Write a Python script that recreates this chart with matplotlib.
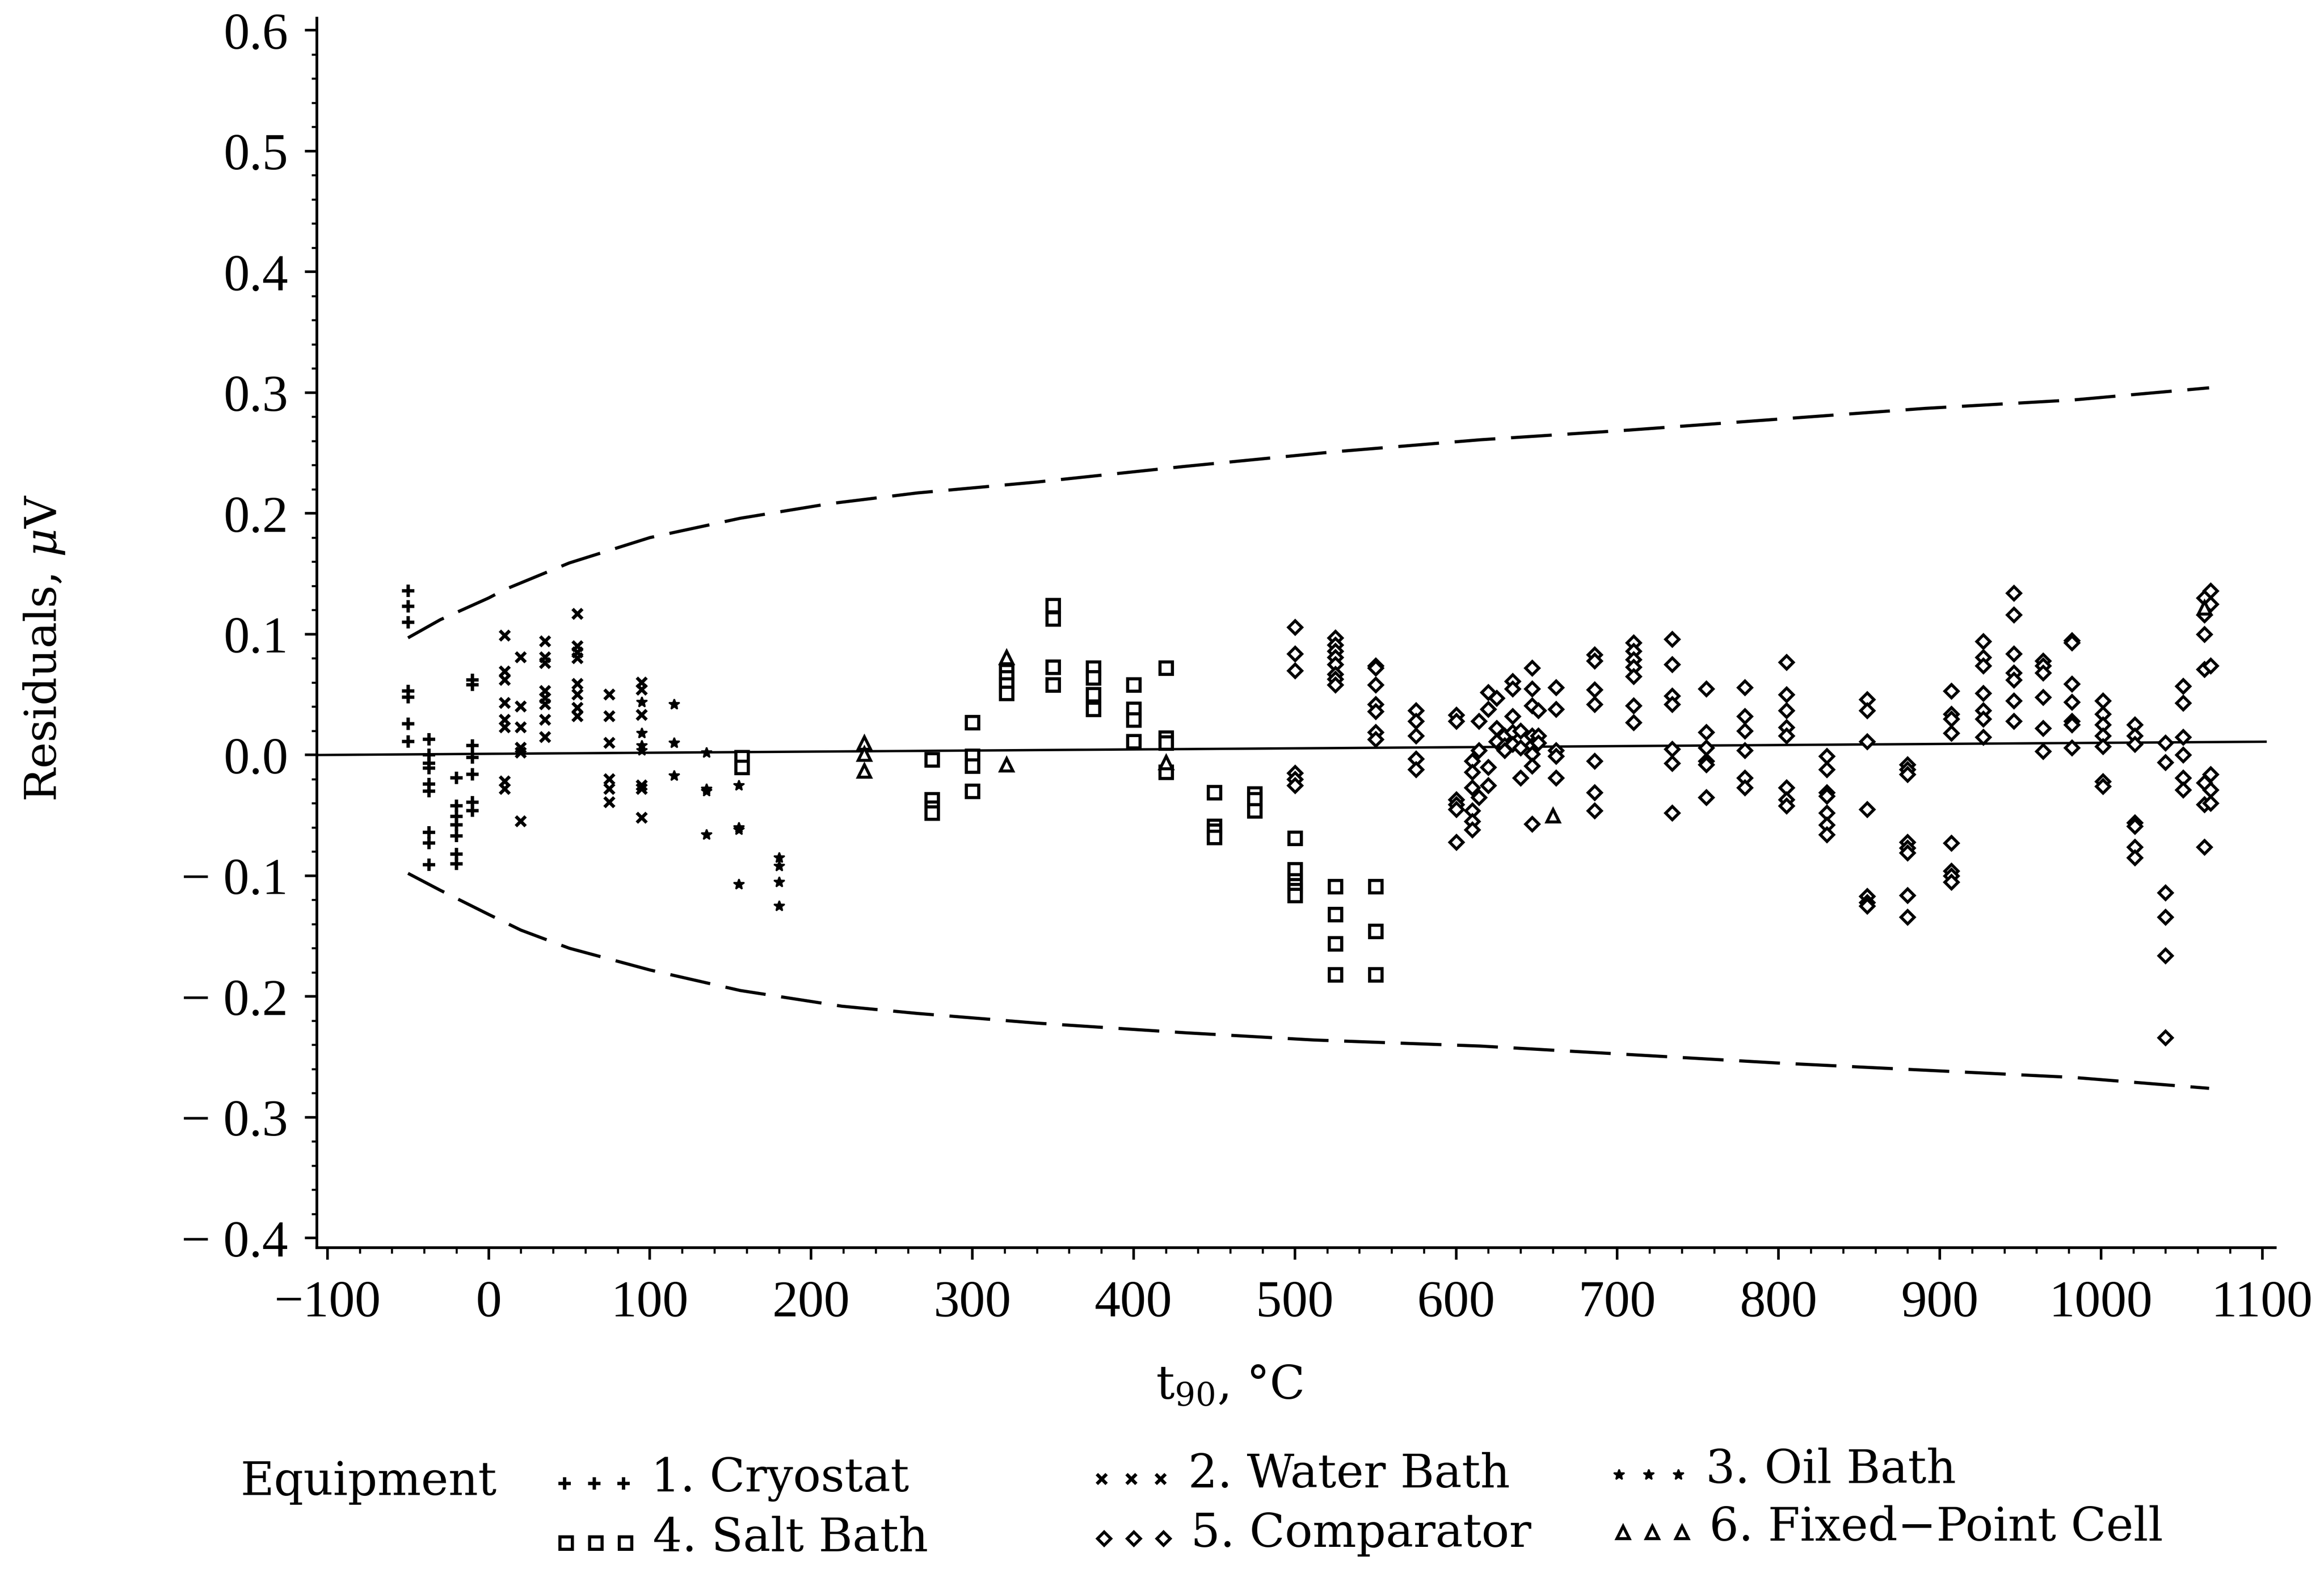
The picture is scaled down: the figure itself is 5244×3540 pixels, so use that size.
import matplotlib
matplotlib.use("Agg")
import matplotlib.pyplot as plt
from matplotlib.lines import Line2D
from matplotlib.ticker import MultipleLocator, FuncFormatter

plt.rcParams['mathtext.fontset'] = 'dejavuserif'

# residual columns: one temperature, several residuals (uV)
cryo_t = [-50, -37, -20, -10]
cryo_r = [[0.136, 0.123, 0.110, 0.053, 0.048, 0.026, 0.011],
          [0.013, 0.0, -0.007, -0.011, -0.024, -0.030, -0.064, -0.073, -0.091],
          [-0.019, -0.042, -0.051, -0.058, -0.067, -0.082, -0.090],
          [0.062, 0.058, 0.008, -0.002, -0.016, -0.039, -0.046]]

water_t = [10, 20, 35, 55, 75, 95]
water_r = [[0.099, 0.069, 0.062, 0.043, 0.029, 0.023, -0.022, -0.028],
           [0.081, 0.040, 0.023, 0.006, 0.002, -0.055],
           [0.094, 0.081, 0.076, 0.053, 0.047, 0.042, 0.029, 0.015],
           [0.117, 0.090, 0.085, 0.080, 0.059, 0.050, 0.039, 0.032],
           [0.050, 0.032, 0.010, -0.020, -0.028, -0.039],
           [0.060, 0.054, 0.033, -0.025, -0.028, -0.052]]

oil_t = [95, 115, 135, 155, 180]
oil_r = [[0.044, 0.018, 0.008, 0.004],
         [0.042, 0.010, -0.017],
         [0.002, -0.028, -0.030, -0.066],
         [-0.025, -0.060, -0.062, -0.107],
         [-0.085, -0.092, -0.105, -0.125]]

salt_t = [157, 275, 300, 321, 350, 375, 400, 420, 450, 475, 500, 525, 550]
salt_r = [[-0.002, -0.010],
          [-0.004, -0.037, -0.044, -0.048],
          [0.027, -0.001, -0.009, -0.030],
          [0.069, 0.064, 0.058, 0.051],
          [0.124, 0.113, 0.073, 0.058],
          [0.072, 0.064, 0.050, 0.038],
          [0.058, 0.038, 0.029, 0.011],
          [0.072, 0.014, 0.010, -0.014],
          [-0.031, -0.059, -0.063, -0.068],
          [-0.032, -0.037, -0.046],
          [-0.069, -0.095, -0.104, -0.108, -0.112, -0.116],
          [-0.109, -0.132, -0.156, -0.182],
          [-0.109, -0.146, -0.182]]

comp_t = [500, 525, 550, 575, 600, 610, 614, 620, 625, 630, 635, 640, 647, 651,
          662, 686, 710, 734, 755, 779, 805, 830, 855, 880, 907, 927, 946, 964,
          982, 1001, 1021, 1040, 1051, 1064, 1068]
comp_r = [[0.106, 0.084, 0.070, -0.015, -0.020, -0.025],
          [0.097, 0.091, 0.086, 0.081, 0.075, 0.067, 0.063, 0.058],
          [0.074, 0.072, 0.058, 0.042, 0.036, 0.019, 0.013],
          [0.037, 0.028, 0.016, -0.003, -0.012],
          [0.033, 0.028, -0.037, -0.041, -0.045, -0.072],
          [-0.005, -0.014, -0.027, -0.046, -0.055, -0.062],
          [0.028, 0.004, -0.035],
          [0.052, 0.038, -0.010, -0.025],
          [0.047, 0.022, 0.011],
          [0.016, 0.008, 0.004],
          [0.061, 0.055, 0.032, 0.019, 0.009],
          [0.020, 0.006, -0.019],
          [0.072, 0.055, 0.041, 0.016, 0.008, 0.001, -0.009, -0.057],
          [0.037, 0.016, 0.010],
          [0.056, 0.038, 0.004, -0.001, -0.019],
          [0.083, 0.078, 0.054, 0.042, -0.005, -0.031, -0.046],
          [0.093, 0.086, 0.079, 0.073, 0.065, 0.041, 0.027],
          [0.096, 0.075, 0.049, 0.042, 0.005, -0.007, -0.048],
          [0.055, 0.019, 0.006, -0.005, -0.008, -0.035],
          [0.056, 0.032, 0.020, 0.004, -0.019, -0.027],
          [0.077, 0.050, 0.037, 0.023, 0.016, -0.027, -0.037, -0.042],
          [-0.001, -0.012, -0.031, -0.034, -0.048, -0.058, -0.066],
          [0.046, 0.037, 0.011, -0.045, -0.117, -0.122, -0.125],
          [-0.008, -0.012, -0.016, -0.072, -0.077, -0.081, -0.116, -0.134],
          [0.053, 0.034, 0.030, 0.018, -0.073, -0.096, -0.100, -0.105],
          [0.094, 0.081, 0.074, 0.051, 0.037, 0.030, 0.015],
          [0.134, 0.116, 0.084, 0.068, 0.062, 0.045, 0.028],
          [0.078, 0.074, 0.068, 0.048, 0.022, 0.003],
          [0.095, 0.093, 0.059, 0.044, 0.028, 0.025, 0.006],
          [0.045, 0.034, 0.025, 0.016, 0.007, -0.022, -0.026],
          [0.025, 0.016, 0.009, -0.056, -0.059, -0.076, -0.085],
          [0.010, -0.006, -0.114, -0.134, -0.166, -0.234],
          [0.057, 0.043, 0.015, 0.000, -0.019, -0.029],
          [0.130, 0.116, 0.100, 0.071, -0.023, -0.041, -0.076],
          [0.136, 0.125, 0.074, -0.016, -0.029, -0.040]]

fixed_t = [233, 233, 233, 321, 321, 420, 660, 1064]
fixed_r = [0.010, 0.001, -0.013, 0.081, -0.008, -0.006, -0.050, 0.122]

# fitted line and uncertainty bands
fit_t = [-106, 1102]
fit_r = [0.0, 0.011]
upper_t = [-50, -30, -20, 0, 10, 30, 50, 100, 156, 211, 266, 340, 432, 524, 615, 707, 799, 891, 983, 1067]
upper_r = [0.097, 0.112, 0.118, 0.130, 0.137, 0.148, 0.159, 0.180, 0.196, 0.208, 0.217, 0.226, 0.239,
           0.251, 0.261, 0.269, 0.278, 0.287, 0.294, 0.304]
lower_t = [-50, -30, 0, 20, 50, 100, 156, 219, 266, 340, 432, 512, 615, 707, 799, 891, 983, 1067]
lower_r = [-0.098, -0.112, -0.132, -0.145, -0.160, -0.178, -0.195, -0.208, -0.214, -0.222, -0.230,
           -0.236, -0.241, -0.248, -0.255, -0.261, -0.267, -0.276]


def expand(ts, rs):
    xs, ys = [], []
    for t, col in zip(ts, rs):
        xs += [t] * len(col)
        ys += col
    return xs, ys


styles = {
    'cryo': dict(marker='+', ms=6.5, mew=1.8, color='black'),
    'water': dict(marker='x', ms=5.5, mew=1.8, color='black'),
    'oil': dict(marker='*', ms=6, mew=0.8, color='black', mfc='black'),
    'salt': dict(marker='s', ms=6.5, mew=1.7, color='black', mfc='white'),
    'comp': dict(marker='D', ms=5, mew=1.6, color='black', mfc='white'),
    'fixed': dict(marker='^', ms=6.5, mew=1.6, color='black', mfc='white'),
}

fig = plt.figure(figsize=(17.48, 11.803), dpi=300)
ax = fig.add_axes([0.1363, 0.2047, 0.8427, 0.7834])

ax.plot(fit_t, fit_r, color='black', lw=1.3)
ax.plot(upper_t, upper_r, color='black', lw=1.7, dashes=(13, 5))
ax.plot(lower_t, lower_r, color='black', lw=1.7, dashes=(13, 5))

for key, (ts, rs) in [('cryo', (cryo_t, cryo_r)), ('water', (water_t, water_r)),
                      ('oil', (oil_t, oil_r)), ('salt', (salt_t, salt_r)),
                      ('comp', (comp_t, comp_r))]:
    xs, ys = expand(ts, rs)
    ax.plot(xs, ys, ls='none', **styles[key])
ax.plot(fixed_t, fixed_r, ls='none', **styles['fixed'])

ax.set_xlim(-106.6, 1108)
ax.set_ylim(-0.408, 0.61)
ax.spines['top'].set_visible(False)
ax.spines['right'].set_visible(False)
for s in ('left', 'bottom'):
    ax.spines[s].set_linewidth(1.5)

ax.xaxis.set_major_locator(MultipleLocator(100))
ax.xaxis.set_minor_locator(MultipleLocator(20))
ax.yaxis.set_major_locator(MultipleLocator(0.1))
ax.yaxis.set_minor_locator(MultipleLocator(0.02))
ax.xaxis.set_major_formatter(FuncFormatter(lambda v, p: f"{v:.0f}".replace('-', '\u2212')))
ax.yaxis.set_major_formatter(FuncFormatter(lambda v, p: f"{v:.1f}".replace('-', '\u2212 ')))
ax.tick_params(which='major', direction='out', length=6.5, width=1.4, labelsize=28, pad=9)
ax.tick_params(which='minor', direction='out', length=3, width=1.1)
ax.tick_params(axis='x', which='major', pad=11)
for lab in ax.get_xticklabels() + ax.get_yticklabels():
    lab.set_family('Liberation Serif')

fig.text(0.019, 0.587, r'Residuals, $\mu$V', rotation=90, ha='center', va='center',
         family='DejaVu Serif', fontsize=24)
fig.text(0.529, 0.117, r'$\mathrm{t}_{90}$, $\degree$C', ha='center', va='center',
         family='DejaVu Serif', fontsize=25)

# legend drawn by hand, three markers per entry
fig.text(0.1034, 0.0556, 'Equipment', ha='left', va='center', family='DejaVu Serif', fontsize=25)
entries = [('cryo', '1. Cryostat', 0.2430, 0.0576),
           ('water', '2. Water Bath', 0.4741, 0.0604),
           ('oil', '3. Oil Bath', 0.6967, 0.0632),
           ('salt', '4. Salt Bath', 0.2436, 0.0198),
           ('comp', '5. Comparator', 0.4751, 0.0226),
           ('fixed', '6. Fixed\u2212Point Cell', 0.6983, 0.0265)]
for key, label, x0, y0 in entries:
    for dx in (0.0, 0.0127, 0.0254):
        fig.add_artist(Line2D([x0 + dx], [y0 - 0.003], ls='none', transform=fig.transFigure,
                              **styles[key]))
    fig.text(x0 + 0.0372, y0, label, ha='left', va='center', family='DejaVu Serif', fontsize=25)

fig.savefig('out.png', dpi=300)
